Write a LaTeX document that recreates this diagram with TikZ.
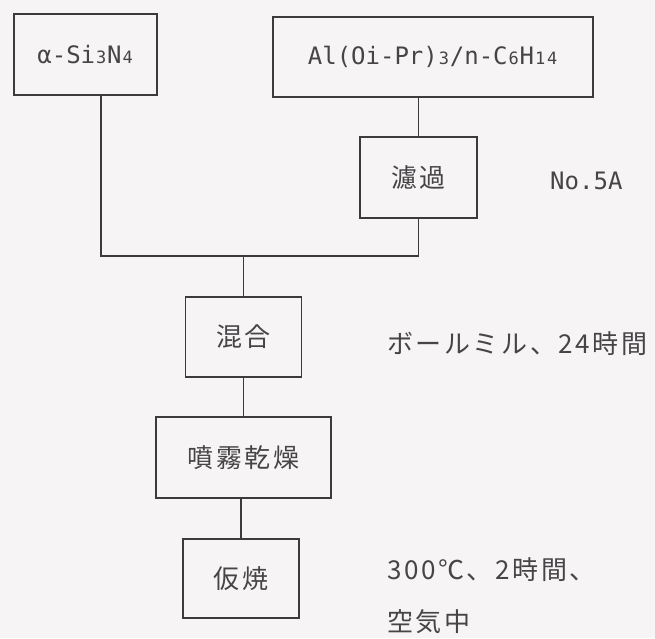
\documentclass[tikz,border=0pt]{standalone}
\usepackage{fontspec}
\newfontfamily\jp[LetterSpace=10]{Noto Sans CJK JP}
\newfontfamily\mono{DejaVu Sans Mono}
\definecolor{bg}{RGB}{246,244,244}
\definecolor{ink}{RGB}{60,58,60}
\definecolor{txt}{RGB}{70,68,70}
\newcommand{\sbs}[1]{\makebox[12pt]{\fontsize{17}{17}\selectfont #1}}
\begin{document}
\begin{tikzpicture}[x=1pt,y=-1pt,
  box/.style={draw=ink,line width=1.4pt,inner sep=0pt,align=center,text=txt},
  jtxt/.style={font=\jp\fontsize{26}{30}\selectfont},
  mtxt/.style={font=\mono\fontsize{24}{26}\selectfont},
  lbl/.style={text=txt,inner sep=0pt,anchor=west},
  conn/.style={draw=ink,line width=1.4pt}]
\fill[bg] (0,0) rectangle (655,638);
\useasboundingbox (0,0) rectangle (655,638);
\node[box,mtxt,minimum width=143pt,minimum height=81pt] (a) at (85.5,54.5) {α-Si\sbs{3}N\sbs{4}};
\node[box,mtxt,minimum width=320pt,minimum height=80pt] (al) at (433,57) {Al(Oi-Pr)\sbs{3}/n-C\sbs{6}H\sbs{1}\sbs{4}};
\node[box,jtxt,minimum width=117pt,minimum height=81pt] (filt) at (418.5,177.5) {濾過};
\node[box,jtxt,minimum width=116pt,minimum height=80pt] (mix) at (243.5,337) {混合};
\node[box,jtxt,minimum width=175pt,minimum height=81pt] (spray) at (243.5,457.5) {噴霧乾燥};
\node[box,jtxt,minimum width=116pt,minimum height=79pt] (calc) at (241,578.5) {仮焼};
\node[lbl,mtxt] (n5a) at (550,181) {No.5A};
\node[lbl,jtxt] (ball) at (387,344) {ボールミル、24時間};
\node[lbl,jtxt] (t1) at (387,570) {300℃、2時間、};
\node[lbl,jtxt] (t2) at (387,622) {空気中};
\coordinate (j) at (243.5,256);
\draw[conn] (filt.north) -- (filt.north |- al.south);
\draw[conn] ([xshift=15.5pt]a.south) |- (j) -| (filt.south);
\draw[conn] (j) -- (mix.north);
\draw[conn] (mix.south) -- (mix.south |- spray.north);
\draw[conn] (calc.north |- spray.south) -- (calc.north);
\end{tikzpicture}
\end{document}
